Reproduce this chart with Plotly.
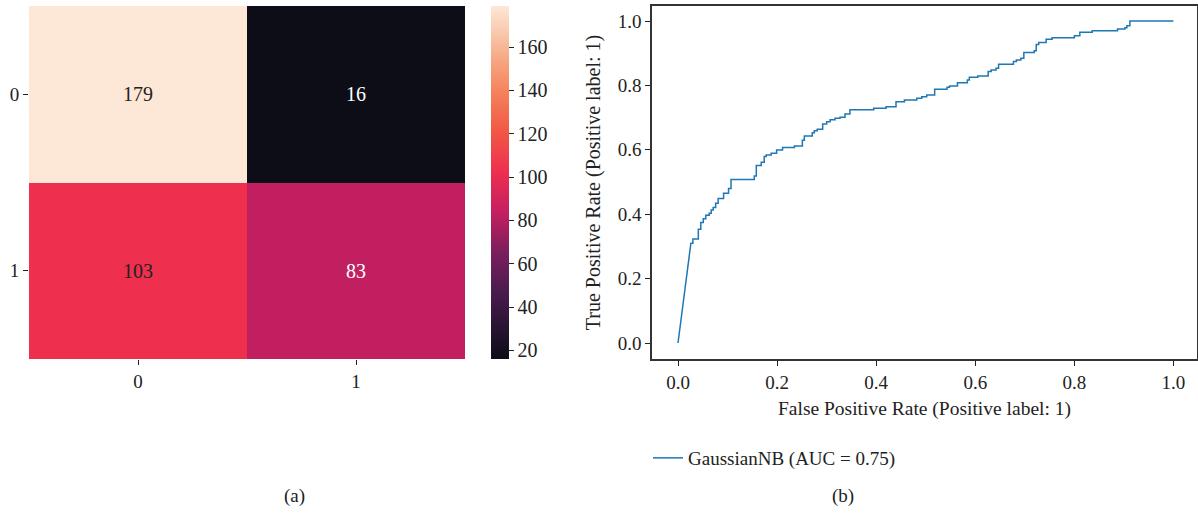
import plotly.graph_objects as go

# ---- data ----
cm_labels = ["0", "1"]
cm_values = [[179, 16], [103, 83]]

roc_fpr = [0.0, 0.026, 0.030, 0.030, 0.041, 0.041, 0.046, 0.046, 0.051, 0.051, 0.056, 0.056,
           0.063, 0.063, 0.067, 0.067, 0.071, 0.071, 0.076, 0.076, 0.081, 0.081, 0.092, 0.092,
           0.102, 0.102, 0.107, 0.107, 0.154, 0.154, 0.158, 0.158, 0.168, 0.168, 0.174, 0.174,
           0.178, 0.178, 0.188, 0.188, 0.199, 0.199, 0.211, 0.211, 0.235, 0.235, 0.251, 0.251,
           0.255, 0.255, 0.271, 0.271, 0.275, 0.275, 0.281, 0.281, 0.292, 0.292, 0.300, 0.300,
           0.307, 0.307, 0.317, 0.317, 0.327, 0.327, 0.337, 0.337, 0.347, 0.347, 0.395, 0.395,
           0.420, 0.420, 0.440, 0.440, 0.457, 0.457, 0.482, 0.482, 0.492, 0.492, 0.502, 0.502,
           0.518, 0.518, 0.543, 0.543, 0.548, 0.548, 0.564, 0.564, 0.584, 0.584, 0.588, 0.588,
           0.605, 0.605, 0.626, 0.626, 0.632, 0.632, 0.642, 0.642, 0.647, 0.647, 0.677, 0.677,
           0.683, 0.683, 0.692, 0.692, 0.698, 0.698, 0.719, 0.719, 0.723, 0.723, 0.728, 0.728,
           0.743, 0.743, 0.755, 0.755, 0.800, 0.800, 0.811, 0.811, 0.836, 0.836, 0.887, 0.887,
           0.902, 0.902, 0.906, 0.906, 0.912, 0.912, 1.0]
roc_tpr = [0.0, 0.310, 0.310, 0.323, 0.323, 0.353, 0.353, 0.374, 0.374, 0.386, 0.386, 0.397,
           0.397, 0.403, 0.403, 0.413, 0.413, 0.421, 0.421, 0.434, 0.434, 0.449, 0.449, 0.465,
           0.465, 0.480, 0.480, 0.508, 0.508, 0.519, 0.519, 0.551, 0.551, 0.561, 0.561, 0.579,
           0.579, 0.584, 0.584, 0.589, 0.589, 0.599, 0.599, 0.607, 0.607, 0.612, 0.612, 0.630,
           0.630, 0.643, 0.643, 0.653, 0.653, 0.659, 0.659, 0.664, 0.664, 0.680, 0.680, 0.687,
           0.687, 0.693, 0.693, 0.698, 0.698, 0.701, 0.701, 0.711, 0.711, 0.724, 0.724, 0.729,
           0.729, 0.734, 0.734, 0.749, 0.749, 0.755, 0.755, 0.760, 0.760, 0.765, 0.765, 0.770,
           0.770, 0.788, 0.788, 0.794, 0.794, 0.798, 0.798, 0.808, 0.808, 0.817, 0.817, 0.825,
           0.825, 0.829, 0.829, 0.843, 0.843, 0.848, 0.848, 0.853, 0.853, 0.866, 0.866, 0.874,
           0.874, 0.879, 0.879, 0.884, 0.884, 0.902, 0.902, 0.908, 0.908, 0.927, 0.927, 0.933,
           0.933, 0.943, 0.943, 0.948, 0.948, 0.954, 0.954, 0.965, 0.965, 0.970, 0.970, 0.975,
           0.975, 0.979, 0.979, 0.985, 0.985, 1.0, 1.0]
roc_name = "GaussianNB (AUC = 0.75)"
cbar_ticks = [20, 40, 60, 80, 100, 120, 140, 160]
roc_ticks = [0, 0.2, 0.4, 0.6, 0.8, 1.0]
roc_ticktext = ["0.0", "0.2", "0.4", "0.6", "0.8", "1.0"]

W, H = 1198, 513
FONT = "Liberation Serif"
TXT = "#222222"

def px_x(p):
    return p / W

def px_y(p):
    return 1 - p / H

rocket = [
    [0.00, "#0c0d17"],
    [0.10, "#2b1535"],
    [0.20, "#4f1c50"],
    [0.30, "#791f5d"],
    [0.411, "#c21f61"],
    [0.534, "#ef2f4e"],
    [0.65, "#f15a45"],
    [0.75, "#f4805a"],
    [0.85, "#f6a883"],
    [0.93, "#f9cbb0"],
    [1.00, "#fde7d6"],
]

vmin = min(min(r) for r in cm_values)
vmax = max(max(r) for r in cm_values)
mid = (vmin + vmax) / 2

fig = go.Figure()

fig.add_trace(go.Heatmap(
    z=cm_values, x=cm_labels, y=cm_labels,
    colorscale=rocket, zmin=vmin, zmax=vmax,
    xaxis="x", yaxis="y", showscale=True, hoverinfo="skip",
    colorbar=dict(
        x=px_x(491), xanchor="left", xpad=0, ypad=0,
        y=px_y(359), yanchor="bottom", len=(359 - 6) / H, lenmode="fraction",
        thickness=18, thicknessmode="pixels", outlinewidth=0,
        tickvals=cbar_ticks, ticks="outside", ticklen=5, tickcolor=TXT,
        tickfont=dict(family=FONT, size=20, color=TXT),
    ),
))

for i, row in enumerate(cm_values):
    for j, v in enumerate(row):
        fig.add_annotation(
            x=cm_labels[j], y=cm_labels[i], xref="x", yref="y", text=str(v),
            showarrow=False,
            font=dict(family=FONT, size=20, color=TXT if v > mid else "#ffffff"),
        )

fig.add_trace(go.Scatter(
    x=roc_fpr, y=roc_tpr, mode="lines", name=roc_name,
    line=dict(color="#1f77b4", width=1.5),
    xaxis="x2", yaxis="y2", showlegend=True,
))

tickfont = dict(family=FONT, size=19, color=TXT)

fig.update_layout(
    width=W, height=H, margin=dict(l=0, r=0, t=0, b=0),
    paper_bgcolor="white", plot_bgcolor="white",
    font=dict(family=FONT, color=TXT),
    xaxis=dict(domain=[px_x(29), px_x(465)], anchor="y", showgrid=False, zeroline=False,
               ticks="outside", ticklen=5, tickcolor=TXT, tickfont=tickfont,
               showline=False, automargin=False),
    yaxis=dict(domain=[px_y(359), px_y(6)], anchor="x", autorange="reversed",
               showgrid=False, zeroline=False,
               ticks="outside", ticklen=5, tickcolor=TXT, tickfont=tickfont,
               showline=False, automargin=False),
    xaxis2=dict(domain=[px_x(652), px_x(1197)], anchor="y2", range=[-0.0525, 1.0475],
                showgrid=False, zeroline=False, showline=True, mirror=True,
                linecolor="#333333", linewidth=1.5,
                ticks="outside", ticklen=5, tickcolor=TXT, tickfont=tickfont,
                tickvals=roc_ticks, ticktext=roc_ticktext,
                title=dict(text="False Positive Rate (Positive label: 1)",
                           font=dict(family=FONT, size=19.5, color=TXT), standoff=10),
                automargin=False),
    yaxis2=dict(domain=[px_y(359), px_y(6)], anchor="x2", range=[-0.0497, 1.0466],
                showgrid=False, zeroline=False, showline=True, mirror=True,
                linecolor="#333333", linewidth=1.5,
                ticks="outside", ticklen=5, tickcolor=TXT, tickfont=tickfont,
                tickvals=roc_ticks, ticktext=roc_ticktext,
                title=dict(text="True Positive Rate (Positive label: 1)",
                           font=dict(family=FONT, size=20, color=TXT), standoff=12),
                automargin=False),
    showlegend=True,
    legend=dict(x=px_x(648), xanchor="left", y=px_y(458), yanchor="middle",
                font=dict(family=FONT, size=19, color=TXT), bgcolor="rgba(0,0,0,0)",
                itemwidth=30),
)

fig.add_annotation(x=px_x(282), y=px_y(496), xref="paper", yref="paper", text="(a)",
                   showarrow=False, yanchor="middle",
                   font=dict(family=FONT, size=19, color=TXT))
fig.add_annotation(x=px_x(856), y=px_y(496), xref="paper", yref="paper", text="(b)",
                   showarrow=False, yanchor="middle",
                   font=dict(family=FONT, size=19, color=TXT))

fig.write_html("out.html")
